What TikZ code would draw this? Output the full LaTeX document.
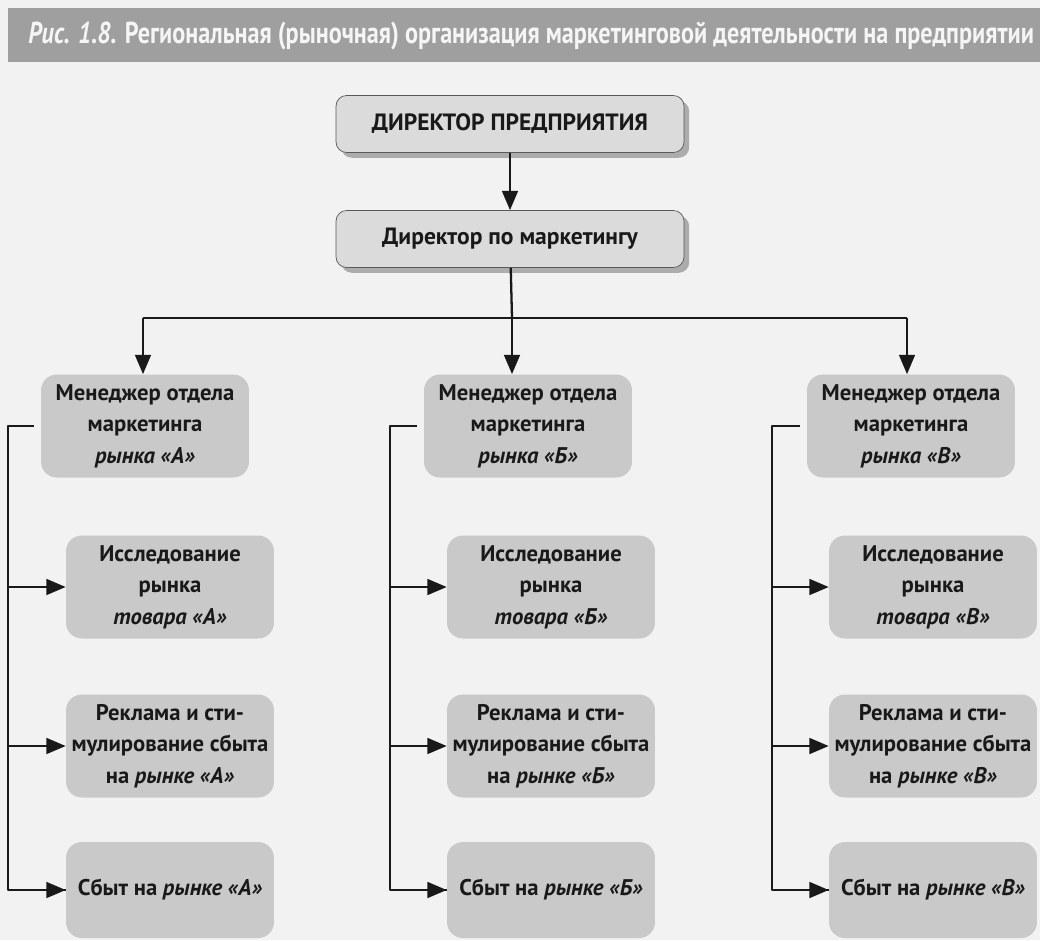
\documentclass[tikz,border=0pt]{standalone}
\usepackage{fontspec}
\setmainfont{PT Sans}
\newfontfamily\titlefont[FakeStretch=0.8]{PT Sans}
\usetikzlibrary{arrows.meta,positioning,shadows}
\definecolor{ink}{gray}{0.1}
\begin{document}
\begin{tikzpicture}[x=0.02cm, y=-0.02cm, line join=round, >={Triangle[length=11pt,width=9pt]}]
\tikzset{
  topbox/.style={draw=gray!70!black, fill=gray!28, rounded corners=6pt, minimum width=6.96cm, minimum height=1.14cm, text=ink, font=\bfseries\fontsize{13.4}{15}\selectfont, drop shadow={shadow xshift=3pt, shadow yshift=-3pt, fill=gray!65, opacity=1}},
  unitbox/.style={fill=gray!42, rounded corners=9pt, minimum width=4.16cm, minimum height=2.06cm, inner xsep=1pt, align=center, text=ink, font=\bfseries\fontsize{12.9}{18}\selectfont},
  link/.style={line width=1.3pt, draw=ink}
}
\useasboundingbox (0,0) rectangle (1040,940);
\fill[gray!10] (0,0) rectangle (1040,940);
\fill[gray!75] (8,8) rectangle (1040,62);
\node[anchor=west, text=gray!8, font=\titlefont\bfseries\fontsize{17.2}{19}\selectfont, inner sep=0pt] (title) at (28,36) {\textit{Рис. 1.8.} Региональная (рыночная) организация маркетинговой деятельности на предприятии};
% top of the tree
\node[topbox] (dir) at (510,124) {ДИРЕКТОР ПРЕДПРИЯТИЯ};
\node[topbox] (mkt) at (510,239) {Директор по маркетингу};
\draw[link,->] (dir) -- (mkt);
\coordinate (split) at (512,318);
\coordinate (ha) at (143,318);
\coordinate (hc) at (907,318);
\draw[link] (mkt) -- (split);
\draw[link] (ha) -- (hc);
% three markets
\foreach \n/\c/\mx/\sx/\bx/\hx in {a/А/145/170/8/143, b/Б/528/551/390/512, c/В/911/933/772/907}{
  \node[unitbox] (m\n) at (\mx,426) {Менеджер отдела\\маркетинга\\\textit{рынка «\c»}};
  \node[unitbox] (r\n) at (\sx,587) {Исследование\\рынка\\\textit{товара «\c»}};
  \node[unitbox] (p\n) at (\sx,746) {Реклама и сти-\\мулирование сбыта\\на \textit{рынке «\c»}};
  \node[unitbox, minimum height=1.92cm] (s\n) at (\sx,890) {Сбыт на \textit{рынке «\c»}};
  \coordinate (d\n) at (\hx,318);
  \coordinate (b\n) at (\bx,890);
  \draw[link,->] (d\n) -- (d\n |- m\n.north);
  \draw[link] ([xshift=-4pt]m\n.west) -| (b\n) -- (s\n.west);
  \draw[link,->] (b\n |- r\n.west) -- (r\n.west);
  \draw[link,->] (b\n |- p\n.west) -- (p\n.west);
  \draw[link,->] (b\n) -- (s\n.west);
}
\end{tikzpicture}
\end{document}
